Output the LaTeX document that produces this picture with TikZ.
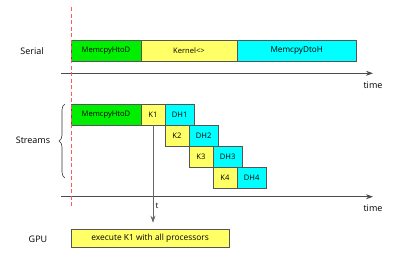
\documentclass[tikz,border=0pt]{standalone}
\usepackage{fontspec}
\setmainfont{Open Sans}
\usetikzlibrary{arrows.meta,decorations.pathreplacing}
\definecolor{cgreen}{HTML}{00EE00}
\definecolor{cyellow}{HTML}{FFFF66}
\definecolor{ccyan}{HTML}{00FFFF}
\definecolor{cborder}{HTML}{555555}
\definecolor{cred}{HTML}{FF5A5A}
\tikzset{
  box/.style={draw=cborder, line width=0.8pt, inner sep=0pt, minimum height=21pt, font=\fontsize{7.6}{9}\selectfont},
  gbox/.style={box, fill=cgreen},
  ybox/.style={box, fill=cyellow},
  cbox/.style={box, fill=ccyan},
  axis/.style={draw=black!70, line width=0.8pt, -{Stealth[length=7pt,width=5pt]}},
  lbl/.style={font=\fontsize{9}{10}\selectfont, inner sep=0pt},
}
\begin{document}
\begin{tikzpicture}[x=1pt,y=-1pt]
\useasboundingbox (0,0) rectangle (407,257);
% serial row
\node[gbox, minimum width=70pt] (s1) at (106,51) {MemcpyHtoD};
\node[ybox, minimum width=96pt] (s2) at (189,51) {Kernel<>};
\node[cbox, minimum width=119.5pt, font=\fontsize{8.2}{9}\selectfont] (s3) at (296.75,51) {MemcpyDtoH};
\node[lbl] (serial) at (32,51) {Serial};
\coordinate (a1s) at (61,73.3);
\coordinate (a1e) at (373,73.3);
\draw[axis] (a1s) -- (a1e);
\node[lbl] (time1) at (373,85) {time};
% streams
\node[gbox, minimum width=70pt] (m) at (106,114.5) {MemcpyHtoD};
\node[ybox, minimum width=24pt] (k1) at (153,114.5) {K1};
\node[cbox, minimum width=29.3pt] (d1) at (179.65,114.5) {DH1};
\node[ybox, minimum width=24pt] (k2) at (177,135.5) {K2};
\node[cbox, minimum width=29.3pt] (d2) at (203.65,135.5) {DH2};
\node[ybox, minimum width=24pt] (k3) at (201,156.5) {K3};
\node[cbox, minimum width=29.3pt] (d3) at (227.65,156.5) {DH3};
\node[ybox, minimum width=24pt] (k4) at (225,177.5) {K4};
\node[cbox, minimum width=29.3pt] (d4) at (251.65,177.5) {DH4};
\node[lbl] (streams) at (33,140) {Streams};
\coordinate (b1) at (65,178);
\coordinate (b2) at (65,104);
\draw[decorate, decoration={brace, amplitude=6pt}, line width=0.6pt, black!80] (b1) -- (b2);
\coordinate (a2s) at (61,196.7);
\coordinate (a2e) at (373,196.7);
\draw[axis] (a2s) -- (a2e);
\node[lbl] (time2) at (373,208) {time};
% red dashed
\coordinate (r1) at (71.5,7);
\coordinate (r2) at (71.5,207);
\draw[cred, line width=1pt, dash pattern=on 4pt off 2.5pt] (r1) -- (r2);
% GPU
\node[ybox, minimum width=158.3pt, minimum height=18.3pt, font=\fontsize{8.4}{9}\selectfont] (gpu) at (150.15,238.15) {execute K1 with all processors};
\node[lbl] (gpul) at (38,239) {GPU};
\coordinate (tend) at (153,222.7);
\draw[draw=black!60, line width=0.8pt, -{Stealth[length=7pt,width=5pt]}] (k1.south) -- (tend);
\node[font=\fontsize{8}{9}\selectfont, inner sep=0pt] (t) at (157,206) {t};
\end{tikzpicture}
\end{document}
